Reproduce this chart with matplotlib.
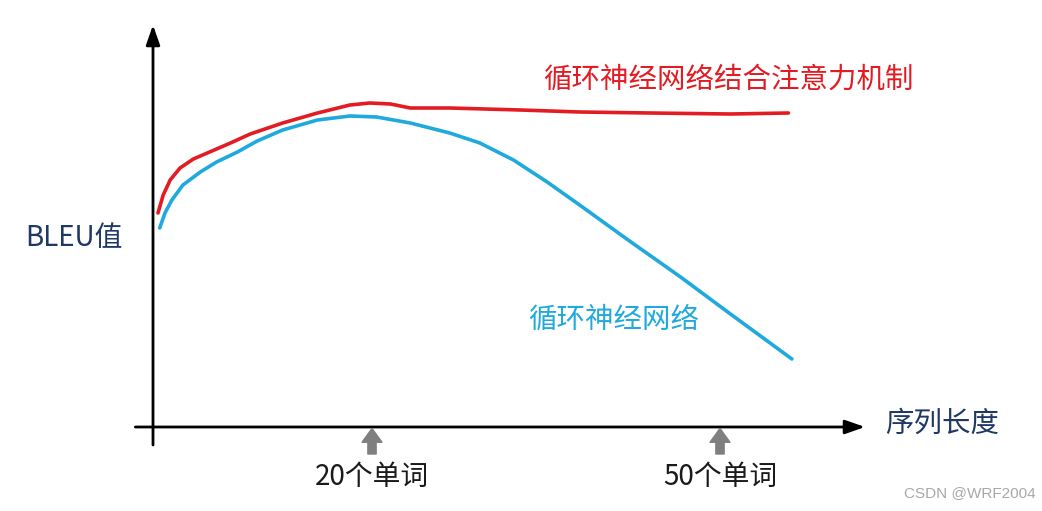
import matplotlib.pyplot as plt

plt.rcParams['font.family'] = ['Noto Sans CJK SC', 'DejaVu Sans']

# sequence length (words) and BLEU (arbitrary units)
attn_len = [1.55, 2.0, 2.6, 3.45, 4.6, 6.0, 7.8, 9.5, 12.3, 15.3, 18.1, 19.8, 21.6, 23.3, 26.7,
            32.8, 37.9, 44.0, 50.9, 55.9]
attn_bleu = [21.4, 23.2, 24.7, 25.9, 26.8, 27.5, 28.4, 29.3, 30.4, 31.4, 32.2, 32.4, 32.3, 31.9, 31.9,
             31.7, 31.5, 31.4, 31.3, 31.4]

rnn_len = [1.7, 2.15, 2.75, 3.7, 5.2, 6.6, 8.4, 10.1, 12.3, 15.3, 18.1, 20.4, 23.3, 26.7, 29.3,
           32.2, 35.1, 37.9, 42.2, 46.6, 50.9, 56.2]
rnn_bleu = [19.9, 21.4, 22.7, 24.2, 25.5, 26.5, 27.5, 28.6, 29.7, 30.7, 31.1, 31.0, 30.4, 29.4, 28.4,
            26.7, 24.5, 22.2, 18.6, 15.0, 11.3, 6.8]

marks = [20, 50]
mark_labels = ['20个单词', '50个单词']

RED = '#e31b23'
BLUE = '#1fa9dd'
NAVY = '#1f3864'

fig = plt.figure(figsize=(10.42, 5.11), dpi=100)
ax = fig.add_axes([0, 0, 1, 1])
ax.set_xlim(-12.07, 77.76)
ax.set_ylim(-8.4, 42.7)
ax.axis('off')

x0 = 1.12  # where the y axis sits

# axes with arrow heads
ax.annotate('', xy=(x0, 40.2), xytext=(x0, -1.8),
            arrowprops=dict(arrowstyle='-|>,head_length=1.0,head_width=0.35',
                            color='black', lw=2, mutation_scale=12, shrinkA=0, shrinkB=0))
ax.annotate('', xy=(62.5, 0), xytext=(-0.4, 0),
            arrowprops=dict(arrowstyle='-|>,head_length=1.0,head_width=0.35',
                            color='black', lw=2, mutation_scale=12, shrinkA=0, shrinkB=0))

# curves
ax.plot(attn_len, attn_bleu, color=RED, lw=2.6, solid_capstyle='round', solid_joinstyle='round')
ax.plot(rnn_len, rnn_bleu, color=BLUE, lw=2.6, solid_capstyle='round', solid_joinstyle='round')

# grey markers under the x axis
for m, lab in zip(marks, mark_labels):
    ax.annotate('', xy=(m, -0.15), xytext=(m, -2.7),
                arrowprops=dict(arrowstyle='simple,head_length=0.55,head_width=0.8,tail_width=0.33',
                                color='#7f7f7f', mutation_scale=18, shrinkA=0, shrinkB=0))
    ax.text(m, -5.0, lab, ha='center', va='center', fontsize=20, color='#1a1a1a')

# labels
ax.text(543 / 1042, 1 - 80 / 511, '循环神经网络结合注意力机制', transform=ax.transAxes,
        ha='left', va='center', fontsize=20.5, color=RED)
ax.text(528 / 1042, 1 - 320 / 511, '循环神经网络', transform=ax.transAxes,
        ha='left', va='center', fontsize=20.5, color=BLUE)
ax.text(25 / 1042, 1 - 238 / 511, 'BLEU值', transform=ax.transAxes,
        ha='left', va='center', fontsize=20, color=NAVY)
ax.text(885 / 1042, 1 - 424 / 511, '序列长度', transform=ax.transAxes,
        ha='left', va='center', fontsize=20.5, color=NAVY)

# watermark
ax.text(1036 / 1042, 1 - 493 / 511, 'CSDN @WRF2004', transform=ax.transAxes,
        ha='right', va='center', fontsize=11, color='#a8a8a8',
        family=['Liberation Sans', 'DejaVu Sans'])

fig.savefig('out.png', dpi=100)
